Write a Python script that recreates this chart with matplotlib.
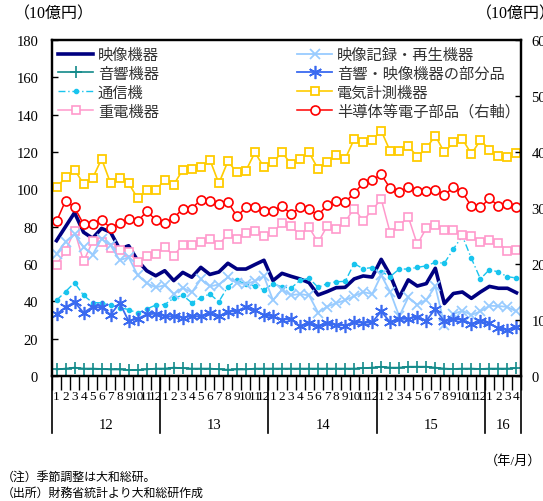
import matplotlib
matplotlib.use("Agg")
import matplotlib.pyplot as plt
import matplotlib.transforms as mtransforms
from matplotlib.font_manager import FontProperties
import numpy as np

plt.rcParams['font.family'] = ['Liberation Serif', 'Noto Sans CJK JP', 'DejaVu Sans']

# ---- data (10億円, monthly, seasonally adjusted) ----
years = ['12', '13', '14', '15', '16']
months_per_year = [12, 12, 12, 12, 4]
month_labels = [str(m) for n in months_per_year for m in range(1, n + 1)]

video = [72.5, 80, 87.5, 77, 73.8, 79.1, 77, 68, 69.8, 61.8, 56.4, 53.7,
         56.4, 51.1, 55.5, 52.9, 58.2, 54.4, 55.7, 60.4, 57.3, 57.3, 59.7, 62,
         51.1, 55, 53.4, 52, 50, 43.4, 45.2, 47.3, 47.5, 52, 53.6, 53,
         62.5, 54, 42.1, 51.5, 48.2, 49.5, 57.7, 38.8, 44.2, 45, 41.6, 45,
         48, 47, 47, 44.6]
audio = [3.5, 4, 4.5, 4, 4, 3.8, 3.5, 3.5, 3.2, 3.3, 3.5, 4,
         4, 4.5, 4.2, 4, 4, 4, 3.6, 3.4, 3.5, 3.5, 4, 4,
         4, 4, 4, 4, 4, 4, 4, 4, 4, 4, 4.2, 4.5,
         5, 4.5, 4.5, 5, 5, 5, 4.5, 4, 3.8, 4, 4, 3.8,
         4, 4, 4, 4.2]
telecom = [40.5, 45.2, 50, 43.2, 39.3, 39.2, 38, 36.6, 35.6, 33.7, 35.9, 38,
           38.3, 41.7, 43.2, 39.2, 42, 43.9, 39.8, 47.9, 51.2, 49.3, 48.2, 46.1,
           49.5, 47.7, 47.1, 51.2, 52.4, 47.5, 49.5, 50.5, 50.7, 60.2, 57.5, 58.1,
           55.9, 53.3, 57.3, 57.3, 58.2, 59, 60.9, 60.4, 68, 75, 63, 52,
           57, 55.7, 53.2, 52.5]
heavy = [59.6, 67, 77.9, 61.4, 72.1, 71.6, 68.4, 67.5, 66.3, 60.9, 64.5, 65.2,
         68.9, 64.5, 70.4, 70.4, 71.6, 73.6, 70.4, 76.1, 73.4, 76.4, 77.9, 75.2,
         77, 82, 80.2, 75.7, 79.6, 71.6, 80.2, 78.8, 82.7, 89.7, 83.2, 88.9,
         94.8, 76.6, 80.5, 85.3, 70.5, 79.2, 81.1, 78.3, 78.3, 75.7, 75.2, 72,
         72.7, 71.4, 66.8, 67.5]
recorder = [65.4, 72, 76, 68.9, 65, 73.5, 70, 62, 63.6, 54, 49.7, 47.5,
            48.6, 43.9, 47.3, 44.8, 51.8, 48, 49, 52.9, 49.7, 49.3, 50.8, 53.5,
            40.6, 46.3, 43.3, 43.9, 43.2, 34, 37.2, 39, 40.6, 42.8, 45, 43.9,
            54, 45, 32, 42.1, 38.2, 40.8, 48, 27.5, 33.2, 35, 32.7, 34.6,
            37.6, 37.5, 37, 34.6]
av_parts = [33, 36.8, 39.6, 33.9, 37, 36.8, 32.8, 39.2, 29.4, 30.7, 33, 33.4,
            32, 32, 31.2, 32.1, 32, 33.6, 32, 34.4, 34.8, 36.8, 35.1, 32.6,
            31.9, 30.2, 30.5, 26.6, 28.4, 26.6, 28.2, 27.4, 27, 29, 28.4, 28.8,
            34.6, 28.8, 30.7, 30.5, 31.8, 29.6, 35.9, 29.2, 30.5, 30.1, 28, 29.2,
            28.2, 25.6, 24.5, 26.3]
measuring = [101, 106.4, 110.5, 102.9, 105.9, 116.3, 103.2, 105.9, 103.2, 95.2, 99.5, 99.5,
             105.2, 102.5, 110.5, 110.7, 112, 115.9, 103.2, 115, 109.1, 110, 119.8, 111.8,
             114.5, 119.8, 113.6, 116.3, 119.8, 110.9, 114.8, 118.4, 116.3, 126.8, 125.2, 126.4,
             131.4, 120.4, 120.4, 123.2, 117.5, 122.1, 128.7, 119.8, 125.2, 127, 118.9, 126.4,
             121.1, 118, 117.5, 119.3]
semicon = [276, 313, 301, 271, 271, 279, 264, 273, 280, 276, 294, 279,
           273, 282, 299, 299, 315, 312, 307, 311, 285, 301, 301, 294,
           294, 304, 289, 301, 298, 287, 305, 313, 311, 326, 345, 350,
           360, 335, 329, 337, 331, 331, 333, 323, 337, 328, 303, 301,
           317, 304, 307, 301]

left_ticks = list(range(0, 181, 20))
right_ticks = list(range(0, 601, 100))

# ---- figure ----
W, H = 543, 502
fig = plt.figure(figsize=(W / 100, H / 100), dpi=100)
ax = fig.add_axes([52 / W, (H - 377) / H, 469 / W, 336 / H])
ax2 = ax.twinx()

x = np.arange(len(month_labels))

h_video, = ax.plot(x, video, color='#000080', lw=2.6, label='映像機器')
h_audio, = ax.plot(x, audio, color='#138a8a', lw=1.2, marker='+', ms=8, mew=1.2,
                   label='音響機器')
h_tel, = ax.plot(x, telecom, color='#18c4ee', lw=1.0, ls=(0, (5, 2, 1, 2)), marker='o',
                 ms=3.0, mec='#18c4ee', label='通信機')
h_heavy, = ax.plot(x, heavy, color='#ff99cc', lw=1.1, marker='s', ms=5.8, mfc='white',
                   mew=1.2, label='重電機器')
h_rec, = ax.plot(x, recorder, color='#99ccff', lw=1.3, marker='x', ms=6.5, mew=1.3,
                 label='映像記録・再生機器')
h_parts, = ax.plot(x, av_parts, color='#3a6af0', lw=1.3, marker=(6, 2, 0), ms=9.5,
                   mew=1.2, label='音響・映像機器の部分品')
h_meas, = ax.plot(x, measuring, color='#ffcc00', lw=1.2, marker='s', ms=6.2, mfc='white',
                  mew=1.3, label='電気計測機器')
h_semi, = ax2.plot(x, semicon, color='#ff0000', lw=1.1, marker='o', ms=6.5, mfc='white',
                   mew=1.2, label='半導体等電子部品（右軸）')

# ---- axes ----
ax.set_xlim(-0.5, len(x) - 0.5)
ax.set_ylim(0, 180)
ax2.set_ylim(0, 600)
ax.set_yticks(left_ticks)
ax2.set_yticks(right_ticks)
ax.tick_params(axis='y', direction='in', length=4, width=1, pad=10,
               labelsize=10.5, colors='black', right=False)
ax2.tick_params(axis='y', direction='in', length=4, width=1, pad=7.5,
                labelsize=10.5, colors='black')

ax.set_xticks(x)
ax.set_xticklabels(month_labels, fontsize=9.5)
ax.tick_params(axis='x', which='major', length=0, pad=10)
ax.set_xticks(np.arange(-0.5, len(x), 1.0), minor=True)
ax.tick_params(axis='x', which='minor', direction='out', length=10, width=1)

for a in (ax, ax2):
    for s in a.spines.values():
        s.set_linewidth(1.6)
        s.set_color('black')

# year separators and labels under the month row
trans = mtransforms.blended_transform_factory(ax.transData, ax.transAxes)
bounds = np.concatenate([[0], np.cumsum(months_per_year)]) - 0.5
for b in bounds:
    ax.plot([b, b], [0, -0.17], color='black', lw=1.2, transform=trans, clip_on=False)
for i, yr in enumerate(years):
    ax.text((bounds[i] + bounds[i + 1]) / 2, -0.143, yr, transform=trans,
            ha='center', va='center', fontsize=10.5)

# ---- legend (two columns) ----
lp = FontProperties(family=['Noto Sans CJK JP'], size=11)
leg_kw = dict(prop=lp, frameon=False, loc='upper left', bbox_transform=fig.transFigure,
              borderaxespad=0, borderpad=0, handlelength=2.3, handletextpad=0.3,
              labelspacing=0.12)
leg1 = ax2.legend(handles=[h_video, h_audio, h_tel, h_heavy],
                  bbox_to_anchor=(58 / W, 1 - 47 / H), **leg_kw)
for t in leg1.get_texts():
    t.set_color('#333333')
ax2.add_artist(leg1)
leg2 = ax2.legend(handles=[h_rec, h_parts, h_meas, h_semi],
                  bbox_to_anchor=(297 / W, 1 - 47 / H), **leg_kw)
for t in leg2.get_texts():
    t.set_color('#333333')

# ---- unit labels and notes ----
fig.text(14 / W, 1 - 14 / H, '（10億円）', fontsize=11.5, va='center', ha='left')
fig.text(476 / W, 1 - 14 / H, '（10億円）', fontsize=11.5, va='center', ha='left')
fig.text(541 / W, 1 - 461 / H, '（年/月）', fontsize=9.5, va='center', ha='right')
fig.text(2 / W, 1 - 478 / H, '（注）季節調整は大和総研。', fontsize=8.6, va='center', ha='left')
fig.text(2 / W, 1 - 494 / H, '（出所）財務省統計より大和総研作成', fontsize=8.6, va='center', ha='left')

fig.savefig('out.png', dpi=100)
